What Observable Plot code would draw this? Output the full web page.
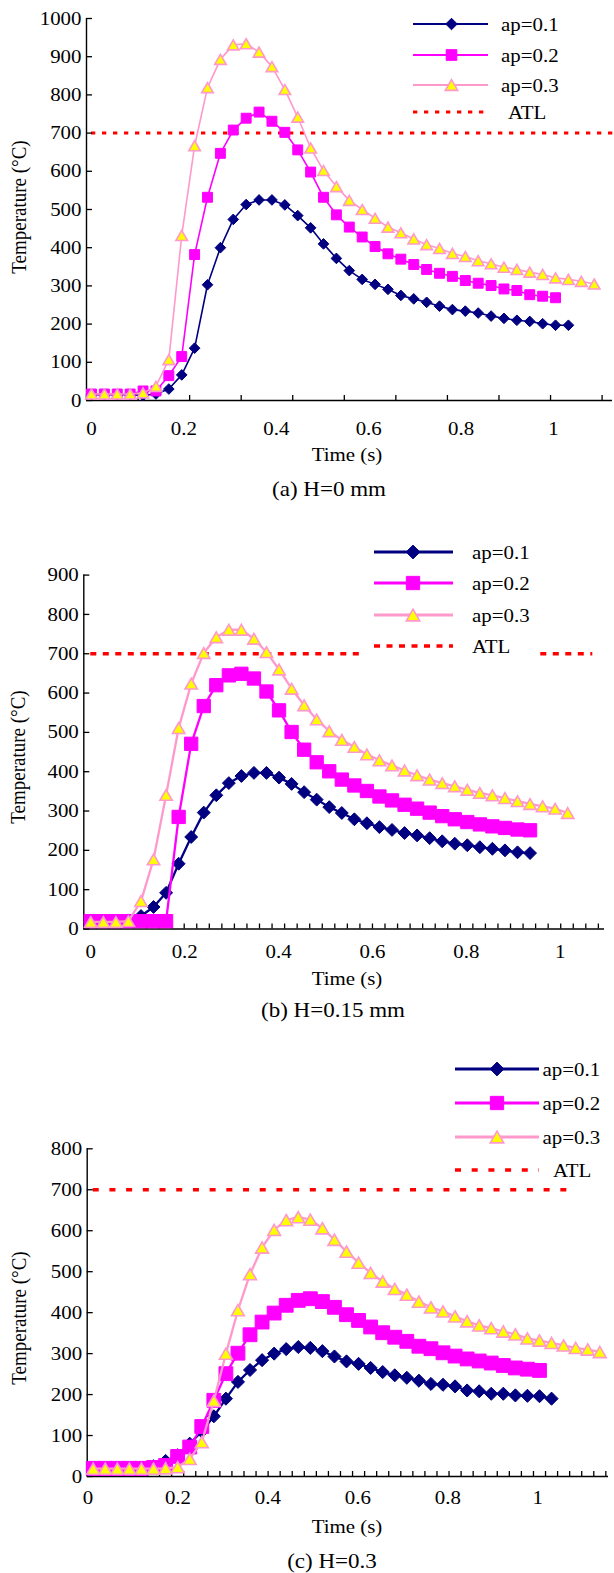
<!DOCTYPE html>
<html>
<head>
<meta charset="utf-8">
<script src="https://cdn.jsdelivr.net/npm/d3@7"></script>
<script src="https://cdn.jsdelivr.net/npm/@observablehq/plot@0.6"></script>
<style>
  html, body { margin: 0; padding: 0; background: #fff; }
  #wrap { position: relative; width: 614px; height: 1573px; overflow: hidden; background: #fff; }
  .panel { position: absolute; left: 0; }
</style>
</head>
<body>
<div id="wrap"></div>
<script>
// ---------- shared labels ----------
const seriesNames = ["ap=0.1", "ap=0.2", "ap=0.3"];
const atlName = "ATL";
const atlValue = 700;
const xTickLabels = [0, 0.2, 0.4, 0.6, 0.8, 1];
const yTitle = "Temperature (\u00B0C)";
const xTitle = "Time (s)";

// ---------- panel (a) H=0 mm ----------
const aCaption = "(a) H=0 mm";
const aTemp01 = [15,15,15,15,13,17,30,67,137,303,400,474,513,525,525,512,484,452,410,372,340,317,304,291,275,266,257,247,238,234,229,221,215,210,207,201,197,197];
const aTemp02 = [17,17,17,17,25,25,65,115,382,532,647,708,739,755,731,702,656,598,532,486,454,428,403,384,370,356,343,333,325,314,307,301,292,288,277,273,269];
const aTemp03 = [17,17,17,17,20,37,107,432,667,819,893,931,934,912,874,814,742,661,602,560,524,500,477,454,439,423,408,398,385,377,366,358,349,343,336,330,321,317,312,305];
const aYTicks = [0,100,200,300,400,500,600,700,800,900,1000];

// ---------- panel (b) H=0.15 mm ----------
const bCaption = "(b) H=0.15 mm";
const bTemp01 = [20,20,20,22,33,56,92,166,234,296,340,371,389,397,397,385,369,348,329,310,295,279,269,259,252,244,238,231,223,217,213,208,204,200,195,193];
const bTemp02 = [20,20,20,20,20,20,20,285,471,567,620,645,649,637,604,556,501,456,424,401,380,365,351,337,327,316,306,296,287,279,272,266,261,257,253,251];
const bTemp03 = [18,18,18,20,71,177,341,511,624,702,742,761,761,738,704,660,611,569,533,503,481,463,444,429,416,403,391,380,371,363,354,346,340,333,325,318,312,306,295];
const bYTicks = [0,100,200,300,400,500,600,700,800,900];

// ---------- panel (c) H=0.3 ----------
const cCaption = "(c) H=0.3";
const cTemp01 = [20,20,20,20,20,25,38,52,80,110,147,190,231,260,284,300,311,316,314,306,293,281,275,265,255,247,241,234,226,224,220,210,208,202,202,198,197,196,190];
const cTemp02 = [20,20,20,20,20,22,27,49,72,122,186,251,301,346,377,399,418,430,434,427,413,395,381,365,351,340,330,318,312,302,294,287,282,277,271,265,262,259];
const cTemp03 = [19,19,19,19,19,19,20,23,43,84,185,300,406,494,559,602,626,633,627,606,578,549,522,497,476,458,444,427,413,403,391,379,369,362,354,347,337,332,326,320,314,310,304];
const cYTicks = [0,100,200,300,400,500,600,700,800];

// ---------- styling ----------
const FONT = '"Liberation Serif","Times New Roman",Times,serif';
const NAVY = "#000080", MAG = "#ff00ff", PINK = "#ff99cc", YEL = "#ffff00", RED = "#ff0000";
const SX = 1.1;          // horizontal stretch of the lettering in the reference
const FS = 19;           // font size

const wrap = document.getElementById("wrap");

function makePanel(p) {
  const W = 614;
  const plotW = W - p.ml - p.mr;
  const plotH = p.h - p.mt - p.mb;
  const rowsOf = vals => vals.map((v, i) => ({t: p.t0 + i * p.dt, v}));
  const tickTimes = d3.range(p.nTicks).map(k => p.xDomain[0] + k * p.tickEvery * p.dt);
  const styles = [
    {values: p.s1, stroke: NAVY, fill: NAVY, symbol: "diamond2", r: p.r1, sw: 1, dy: 0},
    {values: p.s2, stroke: MAG, fill: MAG, symbol: "square", r: p.r2, sw: 1, dy: 0},
    {values: p.s3, stroke: PINK, fill: YEL, symbol: "triangle", r: p.r3, sw: 1.6, dy: 0.39 * p.r3}
  ];
  const marks = [
    Plot.ruleY([atlValue], {x1: p.t0, x2: p.t0 + p.atlN * p.dt, stroke: RED, strokeWidth: p.atlW, strokeDasharray: p.atlDash}),
    Plot.ruleY([0], {stroke: "#000", strokeWidth: 1.4}),
    Plot.ruleX([p.xDomain[0]], {stroke: "#000", strokeWidth: 1.4}),
    Plot.tickY(p.yTicks, {y: d => d, insetRight: plotW - 6, stroke: "#000", strokeWidth: 1.3}),
    Plot.tickX(tickTimes, {x: d => d, insetTop: plotH - 5, stroke: "#000", strokeWidth: 1.3}),
    Plot.axisY({ticks: p.yTicks, tickSize: 0, tickPadding: 5, label: null, fontSize: FS, tickFormat: d => String(d)}),
    Plot.axisX({ticks: xTickLabels, tickSize: 0, tickPadding: p.xPad, label: null, fontSize: FS, tickFormat: d => String(d)})
  ];
  for (const s of styles) {
    const rows = rowsOf(s.values);
    marks.push(Plot.line(rows, {x: "t", y: "v", stroke: s.stroke, strokeWidth: p.lw}));
    marks.push(Plot.dot(rows, {x: "t", y: "v", symbol: s.symbol, r: s.r, fill: s.fill, stroke: s.stroke, strokeWidth: s.sw, dy: s.dy}));
  }
  const svg = Plot.plot({
    width: W, height: p.h,
    marginLeft: p.ml, marginRight: p.mr, marginTop: p.mt, marginBottom: p.mb,
    x: {domain: p.xDomain},
    y: {domain: [0, p.yTicks[p.yTicks.length - 1]]},
    style: {fontFamily: FONT, fontSize: FS + "px", color: "#000", background: "transparent"},
    marks
  });
  svg.querySelectorAll('g[aria-label$="tick label"] text').forEach(t => {
    t.setAttribute("transform", (t.getAttribute("transform") || "") + ` scale(${SX},1)`);
    t.setAttribute("fill", "#000");
  });
  const div = document.createElement("div");
  div.className = "panel";
  div.style.top = p.top + "px";
  div.appendChild(svg);
  wrap.appendChild(div);
}

makePanel({
  top: 0, h: 500, ml: 86, mr: 2, mt: 18, mb: 100,
  t0: 0, dt: 0.0279, xDomain: [-0.0108, 1.1277], tickEvery: 4, nTicks: 11,
  yTicks: aYTicks, s1: aTemp01, s2: aTemp02, s3: aTemp03,
  r1: 4.8, r2: 5.6, r3: 4.3, lw: 1.6, xPad: 21,
  atlN: 41, atlW: 3, atlDash: "4.3 6.7"
});
makePanel({
  top: 520, h: 510, ml: 83.3, mr: 10, mt: 54.6, mb: 101.5,
  t0: 0, dt: 0.02673, xDomain: [-0.0149, 1.0941], tickEvery: 1, nTicks: 42,
  yTicks: bYTicks, s1: bTemp01, s2: bTemp02, s3: bTemp03,
  r1: 5.8, r2: 7.5, r3: 4.6, lw: 2.3, xPad: 16,
  atlN: 40, atlW: 3.5, atlDash: "6 6.5"
});
makePanel({
  top: 1030, h: 543, ml: 86.7, mr: 6, mt: 118.3, mb: 97,
  t0: 0.0116, dt: 0.02682, xDomain: [-0.0018, 1.1574], tickEvery: 1, nTicks: 44,
  yTicks: cYTicks, s1: cTemp01, s2: cTemp02, s3: cTemp03,
  r1: 5.9, r2: 7.8, r3: 4.8, lw: 2.3, xPad: 14,
  atlN: 40, atlW: 3.5, atlDash: "6 10.7"
});

// ---------- overlay: titles, captions, legends ----------
const ov = d3.select(wrap).append("svg")
  .attr("width", 614).attr("height", 1573)
  .style("position", "absolute").style("left", 0).style("top", 0);

function txt(x, y, s, {size = FS, anchor = "start", sx = SX, rotate = false} = {}) {
  ov.append("text")
    .attr("transform", rotate ? `translate(${x},${y}) rotate(-90) scale(1,${sx})` : `translate(${x},${y}) scale(${sx},1)`)
    .attr("text-anchor", anchor)
    .attr("font-family", FONT).attr("font-size", size).attr("fill", "#000")
    .text(s);
}

function legend(L) {
  if (L.box) ov.append("rect").attr("x", L.box[0]).attr("y", L.box[1]).attr("width", L.box[2]).attr("height", L.box[3]).attr("fill", "#fff");
  const sym = [
    {type: d3.symbolDiamond2, r: L.r1, fill: NAVY, stroke: NAVY, color: NAVY, sw: 1, dy: 0},
    {type: d3.symbolSquare, r: L.r2, fill: MAG, stroke: MAG, color: MAG, sw: 1, dy: 0},
    {type: d3.symbolTriangle, r: L.r3, fill: YEL, stroke: PINK, color: PINK, sw: 1.6, dy: 0.39 * L.r3}
  ];
  sym.forEach((s, k) => {
    const y = L.rows[k];
    ov.append("line").attr("x1", L.x1).attr("x2", L.x2).attr("y1", y).attr("y2", y)
      .attr("stroke", s.color).attr("stroke-width", L.lw);
    ov.append("path").attr("d", d3.symbol(s.type, Math.PI * s.r * s.r)())
      .attr("transform", `translate(${L.xm},${y + s.dy})`)
      .attr("fill", s.fill).attr("stroke", s.stroke).attr("stroke-width", s.sw);
    txt(L.tx, y + 6.5, seriesNames[k]);
  });
  const ya = L.rows[3];
  ov.append("line").attr("x1", L.x1).attr("x2", L.x2).attr("y1", ya).attr("y2", ya)
    .attr("stroke", RED).attr("stroke-width", L.atlW).attr("stroke-dasharray", L.atlDash);
  txt(L.atlTx, ya + 6.5, atlName);
}

// panel (a)
txt(26, 207, yTitle, {anchor: "middle", rotate: true});
txt(347, 461, xTitle, {anchor: "middle"});
txt(329, 495.5, aCaption, {anchor: "middle", size: 20, sx: 1.15});
legend({x1: 413, x2: 488, xm: 451.5, tx: 501, atlTx: 508, rows: [24, 55, 85, 112],
        r1: 5.2, r2: 6, r3: 4.6, lw: 2, atlW: 3, atlDash: "4.3 6.7"});

// panel (b)
txt(25, 757, yTitle, {anchor: "middle", rotate: true});
txt(347, 985, xTitle, {anchor: "middle"});
txt(333, 1017, bCaption, {anchor: "middle", size: 20, sx: 1.15});
legend({box: [364, 535, 175, 127], x1: 374, x2: 453, xm: 413, tx: 472, atlTx: 472, rows: [552, 583, 615, 646],
        r1: 6.2, r2: 7.5, r3: 5, lw: 3, atlW: 3.5, atlDash: "6 6.5"});

// panel (c)
txt(26, 1318, yTitle, {anchor: "middle", rotate: true});
txt(347, 1533, xTitle, {anchor: "middle"});
txt(332, 1568, cCaption, {anchor: "middle", size: 20, sx: 1.15});
legend({x1: 455, x2: 539, xm: 497, tx: 542.5, atlTx: 553, rows: [1069, 1103, 1137, 1170],
        r1: 6.2, r2: 7.5, r3: 5, lw: 3, atlW: 3.5, atlDash: "6 10.7"});
</script>
</body>
</html>
